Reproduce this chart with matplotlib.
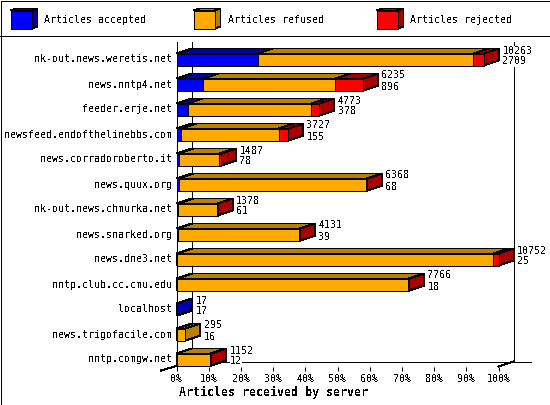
import matplotlib
matplotlib.use("Agg")
import matplotlib.pyplot as plt
from matplotlib.patches import Polygon, Rectangle
from matplotlib.transforms import ScaledTranslation

plt.rcParams["font.family"] = ["DejaVu Sans Mono"]
plt.rcParams["text.antialiased"] = False
plt.rcParams["lines.antialiased"] = False
plt.rcParams["patch.antialiased"] = False

servers = ["nk-out.news.weretis.net", "news.nntp4.net", "feeder.erje.net",
           "newsfeed.endofthelinebbs.com", "news.corradoroberto.it", "news.quux.org",
           "nk-out.news.chmurka.net", "news.snarked.org", "news.dne3.net",
           "nntp.club.cc.cmu.edu", "localhost", "news.trigofacile.com", "nntp.comgw.net"]
accepted = [2709, 896, 378, 155, 78, 68, 61, 39, 25, 18, 17, 16, 12]
refused = [7201, 4411, 4129, 3262, 1349, 6290, 1307, 4082, 10560, 7728, 0, 279, 1130]
rejected = [353, 928, 266, 310, 60, 10, 10, 10, 167, 20, 0, 0, 10]
totals = [10263, 6235, 4773, 3727, 1487, 6368, 1378, 4131, 10752, 7766, 17, 295, 1152]

series_names = ["Articles accepted", "Articles refused", "Articles rejected"]
front_colors = ["#0000FF", "#FFAA00", "#FF0000"]
dark_colors = ["#0000AA", "#B88000", "#AA0000"]
xticks = list(range(0, 101, 10))
xticklabels = ["%d%%" % t for t in xticks]

LW = 0.72  # one pixel at dpi 100
FS = 7.2
DX = 15 / 3.22  # depth in percent
DY = 0.2  # depth in rows
HALF = 0.24
YTOP, YBOT = -0.72, 12.28

fig = plt.figure(figsize=(5.5, 4.05), dpi=100)

# pixel axes for the frame and legend
bg = fig.add_axes([0, 0, 1, 1], zorder=0)
bg.set_xlim(0, 550)
bg.set_ylim(405, 0)
bg.axis("off")
bg.add_patch(Rectangle((0.5, 0.5), 549, 404, fill=False, ec="black", lw=LW))
bg.plot([0, 550], [35.5, 35.5], color="black", lw=LW)
legend_x = [10.5, 193.5, 376.5]
for i in range(3):
    x = legend_x[i]
    bg.add_patch(Polygon([(x, 10.5), (x + 6, 8.5), (x + 27, 8.5), (x + 21, 10.5)],
                         fc=dark_colors[i], ec="black", lw=LW))
    bg.add_patch(Polygon([(x + 21, 10.5), (x + 27, 8.5), (x + 27, 26.5), (x + 21, 28.5)],
                         fc=dark_colors[i], ec="black", lw=LW))
    bg.add_patch(Rectangle((x, 10.5), 21, 18, fc=front_colors[i], ec="black", lw=LW))
    bg.text(x + 34, 20, series_names[i], fontsize=FS, va="center", ha="left")

ax = fig.add_axes([176.5 / 550, 1 - 366.5 / 405, 322 / 550, 325 / 405], zorder=1)
ax.patch.set_alpha(0)
ax.set_xlim(0, 100)
ax.set_ylim(YBOT, YTOP)
for s in ["top", "right", "bottom"]:
    ax.spines[s].set_visible(False)
ax.spines["left"].set_linewidth(LW)

ax.set_yticks(range(len(servers)))
ax.set_yticklabels(servers, fontsize=FS)
ax.set_xticks(xticks)
ax.set_xticklabels(xticklabels, fontsize=FS)
ax.tick_params(axis="y", length=0, pad=3.2)
ax.tick_params(axis="x", length=3, width=LW, pad=2.5)
up = ScaledTranslation(0, 1 / 100, fig.dpi_scale_trans)
for lab in ax.get_yticklabels():
    lab.set_transform(lab.get_transform() + up)

# back walls
ax.plot([DX, DX], [YTOP, YBOT - DY], color="black", lw=LW, clip_on=False, zorder=1)
ax.plot([100 + DX, 100 + DX], [YTOP, YBOT - DY], color="black", lw=LW, clip_on=False, zorder=1)
ax.plot([DX, 110.2], [YBOT - DY, YBOT - DY], color="black", lw=LW, clip_on=False, zorder=1)
ax.plot([-4.8, DX], [YBOT + 0.16, YBOT - DY], color="black", lw=LW, clip_on=False, zorder=1)
ax.plot([100, 100 + DX], [YBOT, YBOT - DY], color="black", lw=LW, clip_on=False, zorder=1)

scale = 100.0 / max(totals)
for row in range(len(servers)):
    left = 0
    for i, vals in enumerate([accepted, refused, rejected]):
        v = vals[row]
        if v == 0:
            continue
        x0 = left * scale
        x1 = (left + v) * scale
        y0 = row - HALF
        y1 = row + HALF
        ax.add_patch(Polygon([(x0, y0), (x0 + DX, y0 - DY), (x1 + DX, y0 - DY), (x1, y0)],
                             fc=dark_colors[i], ec="black", lw=LW, clip_on=False, zorder=2))
        ax.add_patch(Polygon([(x1, y0), (x1 + DX, y0 - DY), (x1 + DX, y1 - DY), (x1, y1)],
                             fc=dark_colors[i], ec="black", lw=LW, clip_on=False, zorder=2))
        ax.add_patch(Rectangle((x0, y0), x1 - x0, y1 - y0,
                               fc=front_colors[i], ec="black", lw=LW, clip_on=False, zorder=2))
        left += v
    end = totals[row] * scale + DX + 3.5 / 3.22
    box = dict(fc="white", ec="none", pad=0)
    ax.text(end, row - 0.36, str(totals[row]), fontsize=FS, va="center", ha="left",
            bbox=box, zorder=3, clip_on=False)
    ax.text(end, row + 0.08, str(accepted[row]), fontsize=FS, va="center", ha="left",
            bbox=box, zorder=3, clip_on=False)

fig.text(179 / 550, 1 - 392 / 405, "Articles received by server", fontsize=8.4,
         fontweight="bold", va="center", ha="left")

fig.savefig("out.png", dpi=100)
